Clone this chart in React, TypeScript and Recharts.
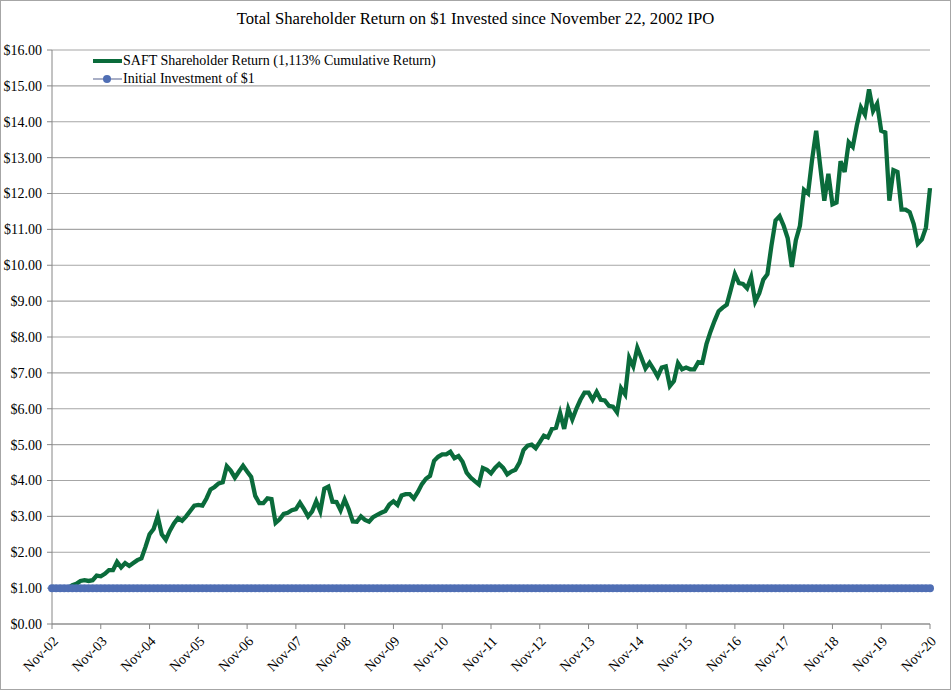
import { LineChart, Line, XAxis, YAxis, CartesianGrid, Legend } from 'recharts';

const MONTH_NAMES = ['Jan', 'Feb', 'Mar', 'Apr', 'May', 'Jun', 'Jul', 'Aug', 'Sep', 'Oct', 'Nov', 'Dec'];

// SAFT total shareholder return, monthly from Nov-02 to Nov-20
const saftReturn = [
  1.05, 0.98, 0.97, 0.99, 1.0, 1.08, 1.12, 1.2, 1.22, 1.2, 1.22, 1.35,
  1.33, 1.4, 1.5, 1.5, 1.73, 1.58, 1.7, 1.62, 1.7, 1.78, 1.83, 2.15,
  2.5, 2.65, 3.0, 2.5, 2.35, 2.6, 2.8, 2.95, 2.88, 3.0, 3.15, 3.3,
  3.32, 3.3, 3.5, 3.75, 3.82, 3.92, 3.95, 4.4, 4.27, 4.08, 4.25, 4.41,
  4.25, 4.1, 3.57, 3.37, 3.37, 3.5, 3.48, 2.82, 2.92, 3.07, 3.1, 3.17,
  3.2, 3.38, 3.2, 3.0, 3.14, 3.42, 3.14, 3.77, 3.83, 3.41, 3.4, 3.17,
  3.47, 3.2, 2.86, 2.85, 3.0, 2.9, 2.85, 2.98, 3.04, 3.1, 3.15, 3.33,
  3.42, 3.32, 3.58, 3.62, 3.62, 3.5, 3.68, 3.9, 4.05, 4.13, 4.55, 4.66,
  4.73, 4.73, 4.8, 4.62, 4.68, 4.52, 4.22, 4.08, 3.98, 3.89, 4.35, 4.3,
  4.2, 4.35, 4.46, 4.35, 4.17, 4.25, 4.3, 4.5, 4.85, 4.97, 5.0, 4.9,
  5.07, 5.25, 5.2, 5.44, 5.47, 5.88, 5.44, 6.0, 5.7, 6.0, 6.25, 6.45,
  6.45, 6.25, 6.47, 6.25, 6.23, 6.08, 6.06, 5.9, 6.57, 6.4, 7.42, 7.18,
  7.7, 7.42, 7.12, 7.28, 7.1, 6.9, 7.15, 7.18, 6.63, 6.77, 7.27, 7.1,
  7.15, 7.1, 7.1, 7.3, 7.28, 7.8, 8.15, 8.45, 8.72, 8.82, 8.9, 9.32,
  9.75, 9.5, 9.48, 9.36, 9.67, 8.99, 9.22, 9.6, 9.75, 10.55, 11.25, 11.37,
  11.1, 10.75, 9.95, 10.7, 11.1, 12.1, 12.0, 12.95, 13.75, 12.75, 11.8, 12.55,
  11.7, 11.75, 12.9, 12.6, 13.43, 13.3, 13.9, 14.4, 14.2, 14.9, 14.3, 14.5,
  13.75, 13.7, 11.8, 12.65, 12.6, 11.55, 11.55, 11.48, 11.15, 10.6, 10.72, 11.05,
  12.15,
];

const INITIAL_INVESTMENT = 1;
const yTicks = [0, 1, 2, 3, 4, 5, 6, 7, 8, 9, 10, 11, 12, 13, 14, 15, 16];

const monthLabels = saftReturn.map((_, i) => {
  const idx = 10 + i;
  const year = 2002 + Math.floor(idx / 12);
  return `${MONTH_NAMES[idx % 12]}-${String(year % 100).padStart(2, '0')}`;
});

const data = saftReturn.map((v, i) => ({
  month: monthLabels[i],
  saft: v,
  initial: INITIAL_INVESTMENT,
}));

const FONT = '"Liberation Serif", "Times New Roman", serif';
const GREEN = '#0A6B3B';
const BLUE = '#4F6EB4';

function LegendBox() {
  return (
    <div style={{ fontFamily: FONT, fontSize: 14, color: '#000', lineHeight: '18px' }}>
      <div style={{ display: 'flex', alignItems: 'center' }}>
        <svg width={31} height={18}>
          <line x1={1} y1={9} x2={30} y2={9} stroke={GREEN} strokeWidth={4} />
        </svg>
        <span>SAFT Shareholder Return (1,113% Cumulative Return)</span>
      </div>
      <div style={{ display: 'flex', alignItems: 'center' }}>
        <svg width={31} height={18}>
          <line x1={1} y1={9} x2={30} y2={9} stroke="#A9AFC6" strokeWidth={2} />
          <circle cx={15} cy={9} r={4} fill={BLUE} />
        </svg>
        <span>Initial Investment of $1</span>
      </div>
    </div>
  );
}

export default function App() {
  return (
    <div style={{ position: 'absolute', left: 0, top: 0, width: 951, height: 690, background: '#fff' }}>
      <div
        style={{
          position: 'absolute',
          left: 0,
          top: 9,
          width: 951,
          textAlign: 'center',
          fontFamily: FONT,
          fontSize: 16.7,
          color: '#000',
        }}
      >
        Total Shareholder Return on $1 Invested since November 22, 2002 IPO
      </div>
      <LineChart
        width={951}
        height={690}
        data={data}
        margin={{ top: 50, right: 21, left: 0, bottom: 0 }}
      >
        <CartesianGrid vertical={false} stroke="#A6A6A6" strokeWidth={1.2} />
        <XAxis
          dataKey="month"
          interval={11}
          height={66}
          stroke="#868686"
          tickSize={5}
          angle={-45}
          textAnchor="end"
          tick={{ fill: '#000', fontSize: 14, fontFamily: FONT, dy: 4 }}
        />
        <YAxis
          width={52}
          domain={[0, 16]}
          ticks={yTicks}
          stroke="#868686"
          tickSize={5}
          tickMargin={5}
          tick={{ fill: '#000', fontSize: 14, fontFamily: FONT }}
          tickFormatter={(v) => `$${Number(v).toFixed(2)}`}
          allowDataOverflow
        />
        <Legend
          layout="vertical"
          align="center"
          verticalAlign="middle"
          wrapperStyle={{ left: 92, top: 52, width: 'auto' }}
          content={() => <LegendBox />}
        />
        <Line
          type="linear"
          dataKey="saft"
          name="SAFT Shareholder Return (1,113% Cumulative Return)"
          stroke={GREEN}
          strokeWidth={4.3}
          dot={false}
          isAnimationActive={false}
        />
        <Line
          type="linear"
          dataKey="initial"
          name="Initial Investment of $1"
          stroke="#A9AFC6"
          strokeWidth={2}
          dot={{ r: 4, fill: BLUE, stroke: BLUE, strokeWidth: 0 }}
          isAnimationActive={false}
        />
      </LineChart>
      <div
        style={{
          position: 'absolute',
          left: 0,
          top: 0,
          width: 951,
          height: 690,
          boxSizing: 'border-box',
          border: '1px solid #A6A6A6',
          pointerEvents: 'none',
        }}
      />
    </div>
  );
}
